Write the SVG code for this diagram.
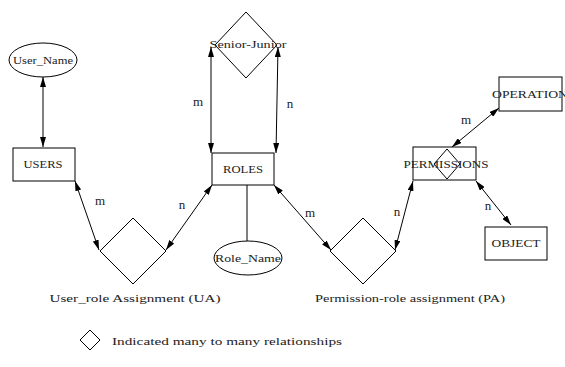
<svg xmlns="http://www.w3.org/2000/svg" width="565" height="367" viewBox="0 0 565 367">
<defs>
<style>
.s{fill:#fff;stroke:#000;stroke-width:1}
.t{font-size:11px;fill:#222;text-anchor:middle}
.l{font-size:13px;fill:#222;text-anchor:middle}
.c{stroke:#000;stroke-width:1;fill:none}
.a{marker-start:url(#ah);marker-end:url(#ah)}
</style>
<marker id="ah" viewBox="0 0 10 6" refX="10" refY="3" markerWidth="10" markerHeight="6" markerUnits="userSpaceOnUse" orient="auto-start-reverse">
<path d="M0,0 L10,3 L0,6 Z" fill="#000"/>
</marker>
</defs>
<rect width="565" height="367" fill="#fff"/>
<g font-family="'Liberation Serif', 'DejaVu Serif', serif">
<g id="connectors">
<line class="c a" x1="43" y1="77" x2="43" y2="147"/>
<line class="c a" x1="211" y1="47" x2="211" y2="153"/>
<line class="c a" x1="278" y1="47" x2="276" y2="153"/>
<line class="c" x1="247" y1="185" x2="247" y2="241"/>
<line class="c a" x1="75" y1="181" x2="99" y2="250"/>
<line class="c a" x1="166" y1="250" x2="212" y2="185"/>
<line class="c a" x1="274" y1="185" x2="331" y2="250"/>
<line class="c a" x1="395" y1="250" x2="413" y2="181"/>
<line class="c a" x1="452" y1="147" x2="499" y2="108"/>
<line class="c a" x1="476" y1="181" x2="511" y2="225"/>
<text class="l" x="100" y="205">m</text>
<text class="l" x="182" y="209">n</text>
<text class="l" x="198" y="106">m</text>
<text class="l" x="290" y="108">n</text>
<text class="l" x="310" y="217">m</text>
<text class="l" x="397" y="216">n</text>
<text class="l" x="466" y="124">m</text>
<text class="l" x="488" y="210">n</text>
</g>
<g id="user_name">
<ellipse class="s" cx="43" cy="60" rx="34" ry="17"/>
<text class="t" x="43" y="64" textLength="60" lengthAdjust="spacingAndGlyphs">User_Name</text>
</g>
<g id="users">
<rect class="s" x="13" y="148" width="62" height="33"/>
<text class="t" x="43" y="168" textLength="39" lengthAdjust="spacingAndGlyphs">USERS</text>
</g>
<g id="senior_junior">
<polygon class="s" points="246,12 277,45 246,78 215,45"/>
<text class="t" x="248" y="48" textLength="77" lengthAdjust="spacingAndGlyphs">Senior-Junior</text>
</g>
<g id="roles">
<rect class="s" x="212" y="153" width="62" height="32"/>
<text class="t" x="243" y="173" textLength="40" lengthAdjust="spacingAndGlyphs">ROLES</text>
</g>
<g id="role_name">
<ellipse class="s" cx="248" cy="258" rx="34" ry="17"/>
<text class="t" x="248" y="262" textLength="66" lengthAdjust="spacingAndGlyphs">Role_Name</text>
</g>
<g id="ua">
<polygon class="s" points="133,218 166,251 133,284 100,251"/>
<text class="t" x="135" y="302" textLength="171" lengthAdjust="spacingAndGlyphs">User_role Assignment (UA)</text>
</g>
<g id="pa">
<polygon class="s" points="363,218 396,251 363,284 330,251"/>
<text class="t" x="410" y="302" textLength="190" lengthAdjust="spacingAndGlyphs">Permission-role assignment (PA)</text>
</g>
<g id="permissions">
<rect class="s" x="413" y="147" width="63" height="33"/>
<polygon class="c" points="447,149 460,164 447,179 434,164"/>
<text class="t" x="446" y="168" textLength="85" lengthAdjust="spacingAndGlyphs">PERMISSIONS</text>
</g>
<g id="operation">
<rect class="s" x="499" y="77" width="63" height="34"/>
<text class="t" x="492" y="98" style="text-anchor:start" textLength="76" lengthAdjust="spacingAndGlyphs">OPERATION</text>
</g>
<g id="object">
<rect class="s" x="485" y="227" width="62" height="33"/>
<text class="t" x="516" y="247" textLength="49" lengthAdjust="spacingAndGlyphs">OBJECT</text>
</g>
<g id="legend">
<polygon class="s" points="90,330 100,340 90,350 80,340"/>
<text class="t" x="112" y="345" style="text-anchor:start" textLength="230" lengthAdjust="spacingAndGlyphs">Indicated many to many relationships</text>
</g>
</g>
</svg>
